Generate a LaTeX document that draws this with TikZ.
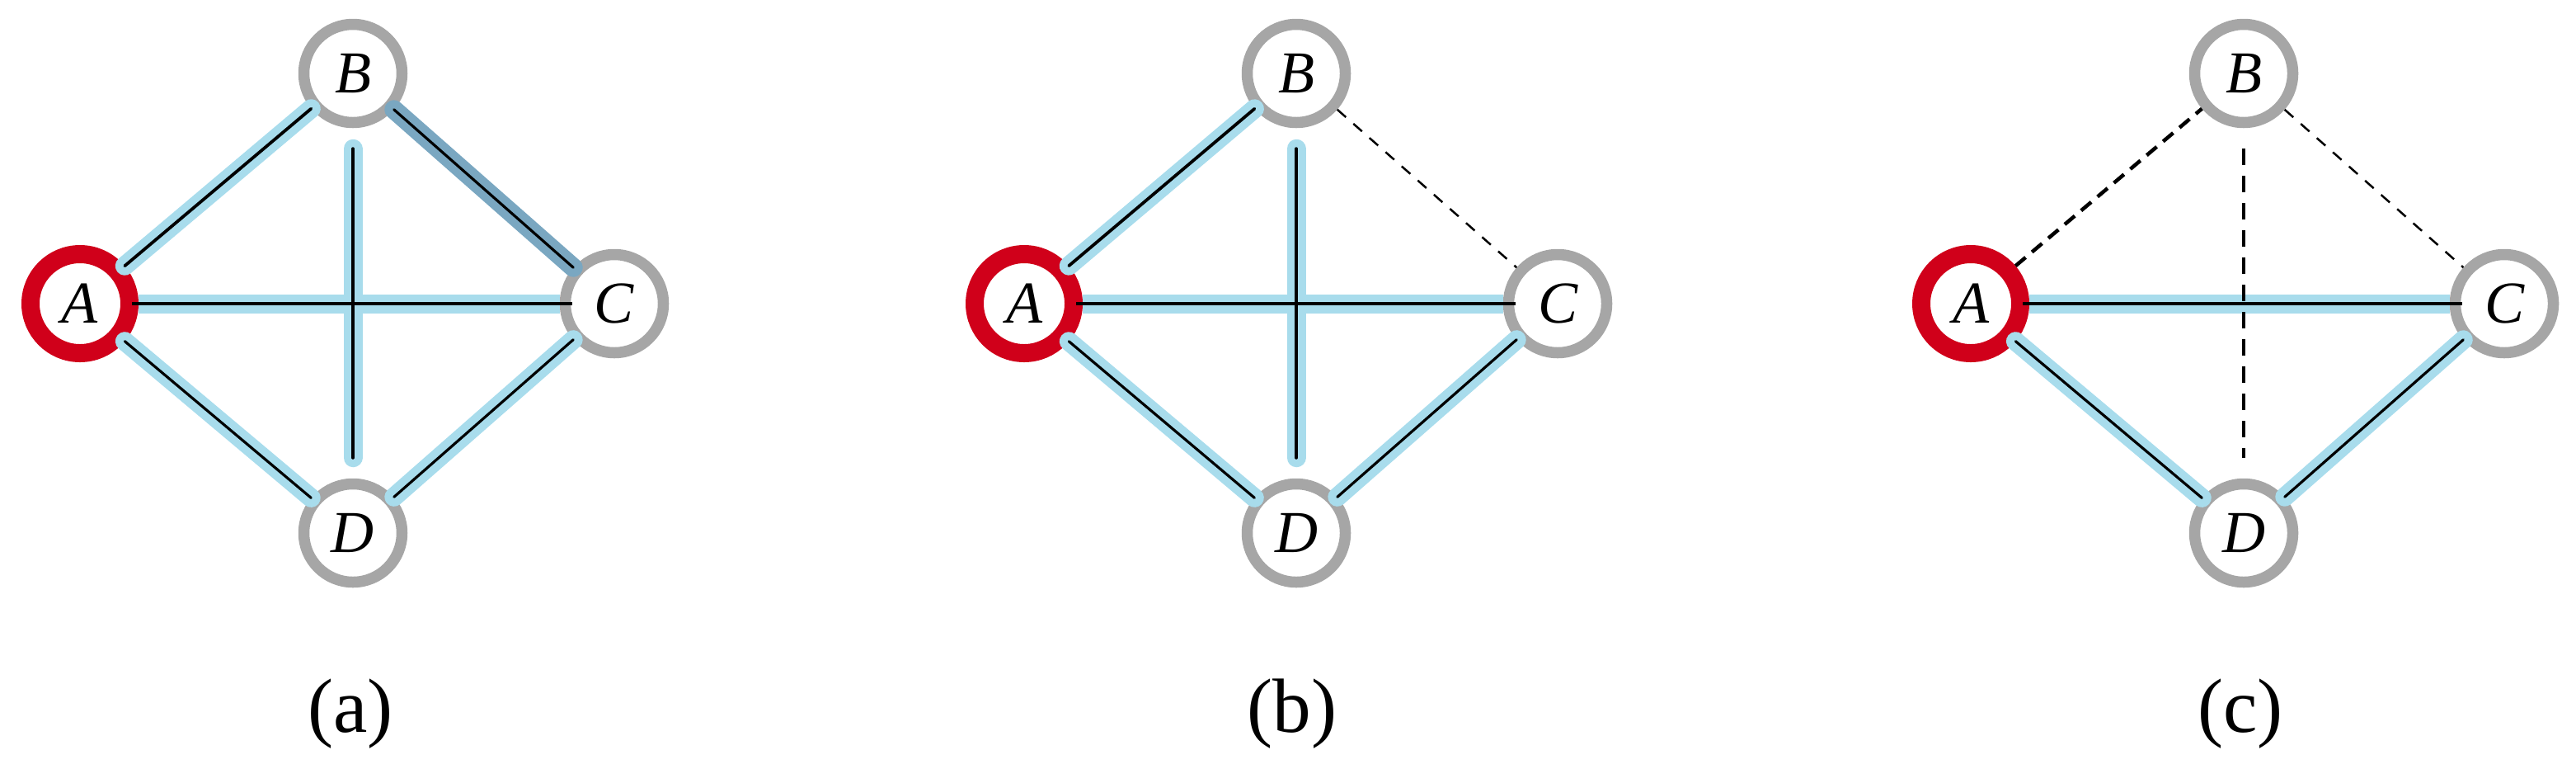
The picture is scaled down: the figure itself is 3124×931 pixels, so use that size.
\documentclass[tikz,border=0pt]{standalone}
\usepackage{fontspec}
\setmainfont{Liberation Serif}
\definecolor{nodered}{RGB}{208,0,26}
\definecolor{nodegray}{RGB}{166,166,166}
\definecolor{halocol}{RGB}{168,220,236}
\definecolor{halodark}{RGB}{122,167,193}
\begin{document}
\begin{tikzpicture}[x=0.1mm,y=-0.1mm,
  vertex/.style={circle, draw=nodegray, line width=1.35mm, fill=white, minimum size=11.9mm, inner sep=0pt, font=\fontsize{20.5pt}{24pt}\selectfont\itshape},
  rootvertex/.style={vertex, draw=nodered, line width=2.2mm, minimum size=12mm},
  halo/.style={draw=halocol, line width=2.3mm, line cap=round},
  darkhalo/.style={halo, draw=halodark},
  halobutt/.style={draw=halocol, line width=2.3mm, line cap=butt},
  core/.style={draw=black, line width=0.32mm, line cap=round},
  hcore/.style={draw=black, line width=0.45mm, shorten <=-0.8mm, shorten >=-1.5mm},
  vhalo/.style={halo, shorten <=2.5mm, shorten >=2.5mm},
  vcore/.style={draw=black, line width=0.4mm, line cap=round, shorten <=2.5mm, shorten >=2.5mm},
  thickdash/.style={draw=black, line width=0.45mm, dash pattern=on 1.6mm off 1.0mm},
  thindash/.style={draw=black, line width=0.25mm, dash pattern=on 1.4mm off 1.2mm},
  vdash/.style={draw=black, line width=0.45mm, dash pattern=on 2mm off 1.3mm, shorten <=2.5mm, shorten >=2.5mm},
  lab/.style={font=\fontsize{26.5pt}{30pt}\selectfont, inner sep=0pt}
]
\useasboundingbox (0,0) rectangle (3124,931);

% ---------- (a) ----------
\node[rootvertex] (aA) at (97,368) {A};
\node[vertex] (aB) at (428,89) {B};
\node[vertex] (aC) at (745,368) {C};
\node[vertex] (aD) at (428,646) {D};
\draw[halo] (aA) -- (aB);
\draw[darkhalo] (aB) -- (aC);
\draw[halo] (aA) -- (aD);
\draw[halo] (aC) -- (aD);
\draw[halobutt] (aA) -- (aC);
\draw[vhalo] (aB) -- (aD);
\draw[core, line width=0.38mm] (aA) -- (aB);
\draw[core] (aB) -- (aC);
\draw[core] (aA) -- (aD);
\draw[core] (aC) -- (aD);
\draw[hcore] (aA) -- (aC);
\draw[vcore] (aB) -- (aD);
\node[lab] (la) at (425,865) {(a)};

% ---------- (b) ----------
\node[rootvertex] (bA) at (1242,368) {A};
\node[vertex] (bB) at (1572,89) {B};
\node[vertex] (bC) at (1889,368) {C};
\node[vertex] (bD) at (1572,646) {D};
\draw[halo] (bA) -- (bB);
\draw[halo] (bA) -- (bD);
\draw[halo] (bC) -- (bD);
\draw[halobutt] (bA) -- (bC);
\draw[vhalo] (bB) -- (bD);
\draw[core, line width=0.38mm] (bA) -- (bB);
\draw[core] (bA) -- (bD);
\draw[core] (bC) -- (bD);
\draw[hcore] (bA) -- (bC);
\draw[vcore] (bB) -- (bD);
\draw[thindash] (bB) -- (bC);
\node[lab] (lb) at (1567,865) {(b)};

% ---------- (c) ----------
\node[rootvertex] (cA) at (2390,368) {A};
\node[vertex] (cB) at (2721,89) {B};
\node[vertex] (cC) at (3037,368) {C};
\node[vertex] (cD) at (2721,646) {D};
\draw[halo] (cA) -- (cD);
\draw[halo] (cC) -- (cD);
\draw[halobutt] (cA) -- (cC);
\draw[core] (cA) -- (cD);
\draw[core] (cC) -- (cD);
\draw[hcore] (cA) -- (cC);
\draw[thickdash] (cA) -- (cB);
\draw[thindash] (cB) -- (cC);
\draw[vdash] (cB) -- (cD);
\node[lab] (lc) at (2717,865) {(c)};
\end{tikzpicture}
\end{document}
